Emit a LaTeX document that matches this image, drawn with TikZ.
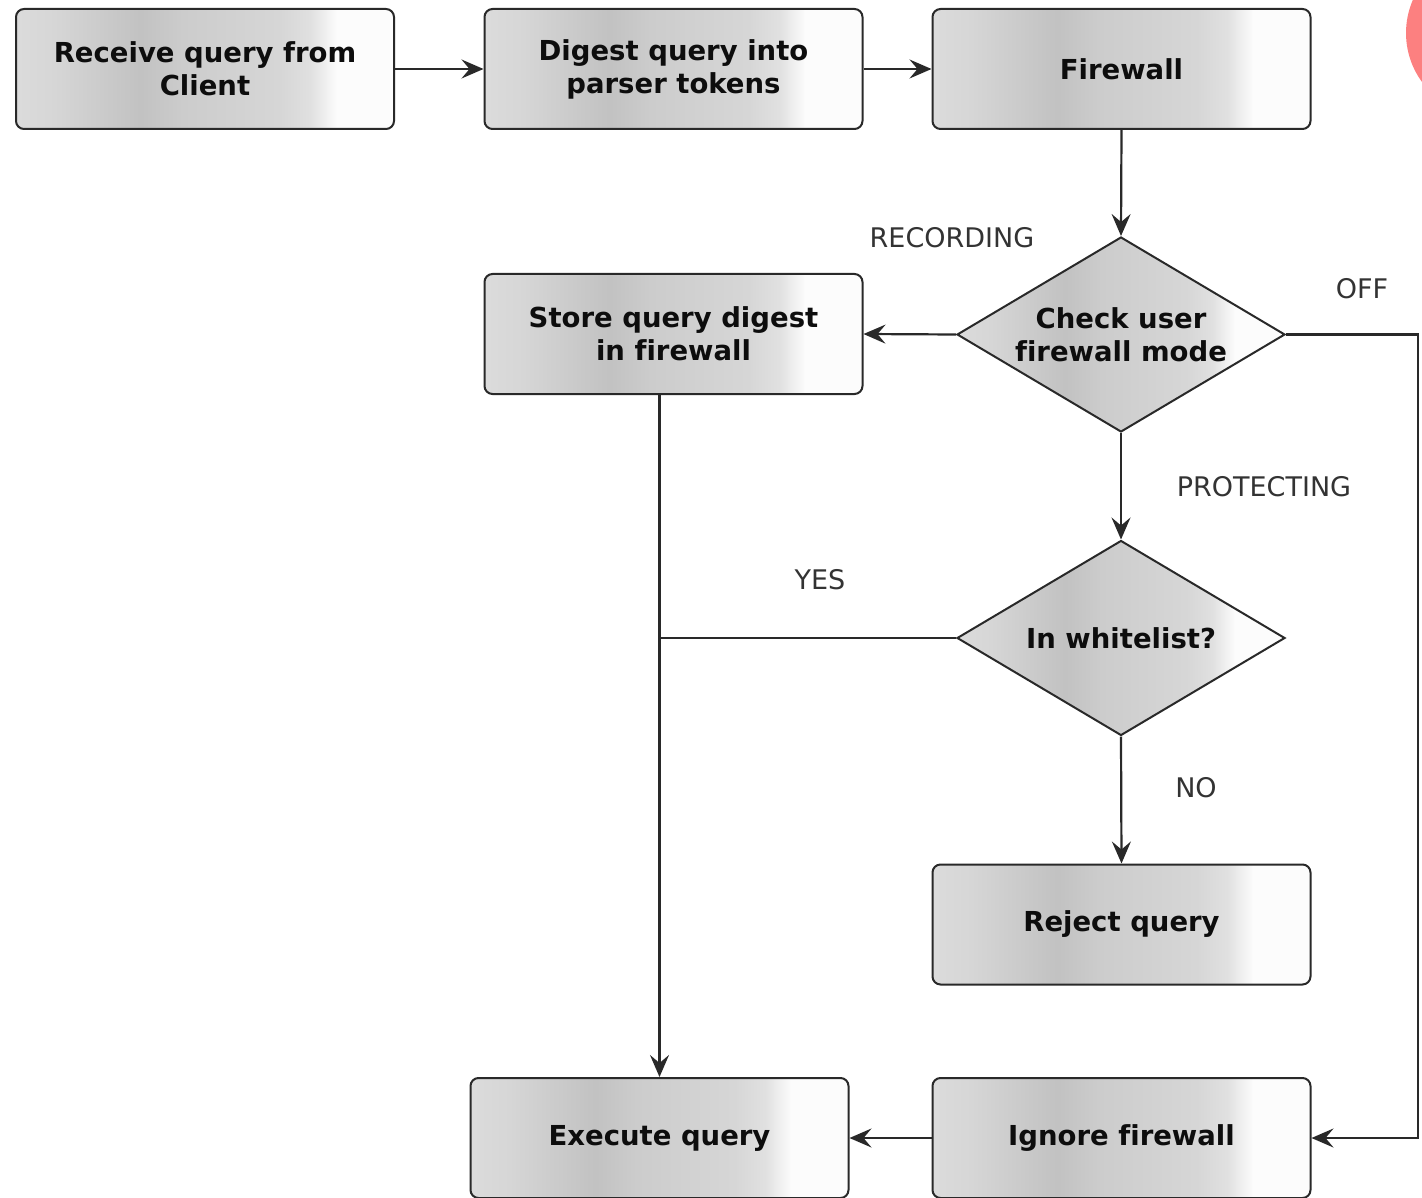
\documentclass[tikz,border=0pt]{standalone}
\usepackage{fontspec}
\setmainfont{DejaVu Sans}[Ligatures=NoCommon]
\usetikzlibrary{shapes.geometric,arrows.meta}

% grey tones of the metallic fill
\definecolor{gA}{gray}{0.86}
\definecolor{gB}{gray}{0.84}
\definecolor{gC}{gray}{0.76}
\definecolor{gD}{gray}{0.80}
\definecolor{gE}{gray}{0.84}
\definecolor{gF}{gray}{0.88}
\definecolor{gW}{gray}{0.99}
\definecolor{edge}{gray}{0.16}
\definecolor{labelgrey}{gray}{0.2}
\definecolor{dot}{RGB}{252,128,128}

% horizontal metallic fill; the path spans 25bp..75bp
\pgfdeclarehorizontalshading{metal}{100bp}{
  color(0bp)=(gA); color(25bp)=(gA); color(30bp)=(gB);
  color(41.5bp)=(gC); color(47bp)=(gD); color(60bp)=(gE);
  color(64bp)=(gF); color(67.5bp)=(gW); color(75bp)=(gW); color(100bp)=(gW)}

\begin{document}
\begin{tikzpicture}[x=1pt,y=-1pt,
  font=\fontsize{27.5}{33}\selectfont,
  stepbox/.style={rectangle, rounded corners=8pt, draw=edge, line width=2pt,
    shading=metal, minimum width=378pt, minimum height=120pt, inner sep=0pt,
    align=center, text=black!95, font=\fontsize{27.5}{33}\selectfont\bfseries},
  decision/.style={diamond, draw=edge, line width=2pt, shading=metal,
    minimum width=328pt, minimum height=195pt, inner sep=0pt},
  dtext/.style={align=center, text=black!95, font=\fontsize{27.5}{33}\selectfont\bfseries},
  flow/.style={draw=edge, line width=2.2pt},
  arr/.style={flow, -{Stealth[length=22pt, width=19pt, inset=8pt]}},
  tag/.style={inner sep=0pt, text=labelgrey, font=\fontsize{27}{32}\selectfont}
]
\useasboundingbox (0,0) rectangle (1422,1198);

% corner marker
\begin{scope}
  \clip (0,0) rectangle (1422,1198);
  \fill[dot] (1489,33) circle (83);
\end{scope}

% process steps
\node[stepbox] (recv)  at (205,69)     {Receive query from\\Client};
\node[stepbox] (digest) at (673.5,69)  {Digest query into\\parser tokens};
\node[stepbox] (fw)    at (1121.5,69)  {Firewall};
\node[stepbox] (store) at (673.5,334)  {Store query digest\\in firewall};
\node[stepbox] (reject) at (1121.5,924.5) {Reject query};
\node[stepbox] (exec)  at (659.5,1138) {Execute query};
\node[stepbox] (ignore) at (1121.5,1138) {Ignore firewall};

% decisions
\node[decision] (mode) at (1121,334.5) {};
\node[dtext] (modetxt) at (mode) {Check user\\firewall mode};
\node[decision] (white) at (1121,638) {};
\node[dtext] (whitetxt) at (white) {In whitelist?};

% connectors
\draw[arr] (recv.east) -- (digest.west);
\draw[arr] (digest.east) -- (fw.west);
\draw[arr] (fw.south) -- (mode.north);
\draw[arr] (mode.west) -- (store.east);
\coordinate (offturn) at (1418,334.5);
\draw[arr] (mode.east) -- (offturn) |- (ignore.east);
\draw[arr] (mode.south) -- (white.north);
\draw[arr] (white.south) -- (reject.north);
\draw[arr] (store.south -| exec.north) -- (exec.north);
\draw[flow] (white.west) -- (white.west -| exec.north);
\draw[arr] (ignore.west) -- (exec.east);

% branch labels
\node[tag] (lrec)  at (952,238)  {RECORDING};
\node[tag] (loff)  at (1362,289) {OFF};
\node[tag] (lprot) at (1264,487) {PROTECTING};
\node[tag] (lyes)  at (820,580)  {YES};
\node[tag] (lno)   at (1196,788) {NO};
\end{tikzpicture}
\end{document}
